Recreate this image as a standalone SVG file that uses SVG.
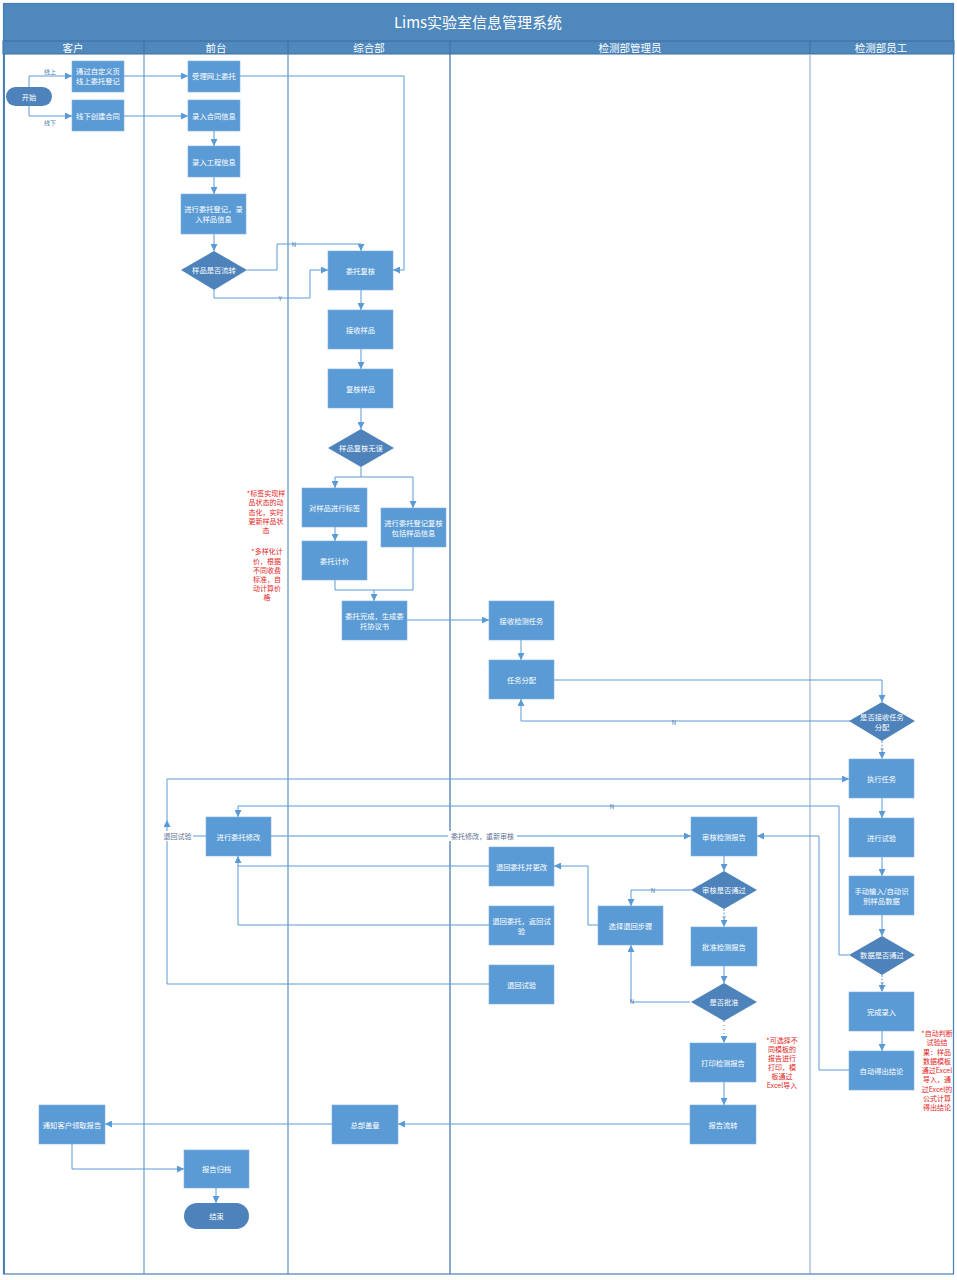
<svg xmlns="http://www.w3.org/2000/svg" width="957" height="1280" viewBox="0 0 957 1280">
<style>
.n{fill:#5b9bd5;stroke:#7fb0e0;stroke-width:0.6}
.d{fill:#4d82ba}
.t{font-family:"Noto Sans CJK SC","Liberation Sans",sans-serif;font-size:7.3px;fill:#fff;text-anchor:middle;dominant-baseline:central}
.c{fill:none;stroke:#5b9bd5;stroke-width:1}
.lb{font-family:"Noto Sans CJK SC","Liberation Sans",sans-serif;font-size:6px;fill:#4a78b0;text-anchor:middle;dominant-baseline:central}
.lbw{font-family:"Noto Sans CJK SC","Liberation Sans",sans-serif;font-size:7px;fill:#5d7393;text-anchor:middle;dominant-baseline:central}
.r{font-family:"Noto Sans CJK SC","Liberation Sans",sans-serif;font-size:7px;fill:#e31e24;text-anchor:middle;dominant-baseline:central}
.h{font-family:"Noto Sans CJK SC","Liberation Sans",sans-serif;font-size:10.5px;fill:#fff;text-anchor:middle;dominant-baseline:central}
</style>
<defs>
<marker id="a" viewBox="0 0 10 10" refX="10" refY="5" markerWidth="7" markerHeight="7" markerUnits="userSpaceOnUse" orient="auto"><path d="M0,0 L10,5 L0,10 z" fill="#5b9bd5"/></marker>
</defs>
<rect x="0" y="0" width="957" height="1280" fill="#fff"/>
<g id="frame">
<rect x="3" y="3" width="951" height="38" fill="#4f88bc"/>
<rect x="3" y="41" width="951" height="13" fill="#4f88bc" stroke="#3d6e9f" stroke-width="1"/>
<text x="478" y="21" class="h" style="font-size:15px">Lims实验室信息管理系统</text>
<text x="73" y="47.5" class="h">客户</text>
<text x="216" y="47.5" class="h">前台</text>
<text x="369" y="47.5" class="h">综合部</text>
<text x="630" y="47.5" class="h">检测部管理员</text>
<text x="881" y="47.5" class="h">检测部员工</text>
<g stroke="#3d6e9f" stroke-width="1">
<line x1="144" y1="41" x2="144" y2="54"/><line x1="288" y1="41" x2="288" y2="54"/><line x1="450" y1="41" x2="450" y2="54"/><line x1="810" y1="41" x2="810" y2="54"/>
</g>
<line x1="144" y1="54" x2="144" y2="1274" stroke="#6f9bcf" stroke-width="1.2"/>
<line x1="288" y1="54" x2="288" y2="1274" stroke="#5f8fc6" stroke-width="1.2"/>
<line x1="450" y1="54" x2="450" y2="1274" stroke="#3f70a8" stroke-width="1.2"/>
<line x1="810" y1="54" x2="810" y2="1274" stroke="#9fb6d6" stroke-width="1.2"/>
<rect x="3.5" y="3.5" width="950" height="1270.5" fill="none" stroke="#4a7fb5" stroke-width="1.2"/>
<line x1="4" y1="54" x2="4" y2="1274" stroke="#4a7fb5" stroke-width="2"/>
</g>
<g id="connectors">
<path class="c" d="M29,87 V76 H72" marker-end="url(#a)"/>
<path class="c" d="M29,105 V116 H72" marker-end="url(#a)"/>
<path class="c" d="M124,76 H188" marker-end="url(#a)"/>
<path class="c" d="M124,116 H188" marker-end="url(#a)"/>
<path class="c" d="M240,76 H404 V270 H393" marker-end="url(#a)"/>
<path class="c" d="M214,131 V146" marker-end="url(#a)"/>
<path class="c" d="M214,177 V194" marker-end="url(#a)"/>
<path class="c" d="M214,234 V251" marker-end="url(#a)"/>
<path class="c" d="M247,270 H277 V244 H361 V251" marker-end="url(#a)"/>
<path class="c" d="M214,290 V298 H310 V270 H328" marker-end="url(#a)"/>
<path class="c" d="M361,290 V310" marker-end="url(#a)"/>
<path class="c" d="M361,349 V369" marker-end="url(#a)"/>
<path class="c" d="M361,408 V429" marker-end="url(#a)"/>
<path class="c" d="M361,467 V477 H335 V488" marker-end="url(#a)"/>
<path class="c" d="M361,477 H413 V508" marker-end="url(#a)"/>
<path class="c" d="M335,527 V541" marker-end="url(#a)"/>
<path class="c" d="M335,580 V590 H374 V601" marker-end="url(#a)"/>
<path class="c" d="M413,547 V590 H374"/>
<path class="c" d="M407,620 H489" marker-end="url(#a)"/>
<path class="c" d="M521,640 V660" marker-end="url(#a)"/>
<path class="c" d="M554,680 H882 V702" marker-end="url(#a)"/>
<path class="c" d="M850,721 H521 V699" marker-end="url(#a)"/>
<path class="c" d="M882,741 V759" marker-end="url(#a)" stroke-dasharray="2,1.5"/>
<path class="c" d="M882,798 V818" marker-end="url(#a)"/>
<path class="c" d="M882,857 V876" marker-end="url(#a)"/>
<path class="c" d="M882,915 V936" marker-end="url(#a)"/>
<path class="c" d="M882,975 V992" marker-end="url(#a)" stroke-dasharray="2,1.5"/>
<path class="c" d="M882,1031 V1051" marker-end="url(#a)"/>
<path class="c" d="M849,955 H839 V806 H238 V817" marker-end="url(#a)"/>
<path class="c" d="M849,1070 H819 V836 H757" marker-end="url(#a)"/>
<path class="c" d="M271,836 H691" marker-end="url(#a)" style="stroke-width:1.6;stroke:#8ab4de"/>
<path class="c" d="M489,866 H238 V856" marker-end="url(#a)"/>
<path class="c" d="M489,925 H238 V866"/>
<path class="c" d="M489,984 H167 V820" marker-end="url(#a)"/>
<path class="c" d="M167,820 V779 H849" marker-end="url(#a)"/>
<path class="c" d="M193,836 H206"/>
<path class="c" d="M598,925 H588 V866 H554" marker-end="url(#a)"/>
<path class="c" d="M724,856 V871" marker-end="url(#a)"/>
<path class="c" d="M691,890 H631 V906" marker-end="url(#a)"/>
<path class="c" d="M724,909 V927" marker-end="url(#a)" stroke-dasharray="2,1.5"/>
<path class="c" d="M724,966 V983" marker-end="url(#a)"/>
<path class="c" d="M690,1002 H631 V945" marker-end="url(#a)"/>
<path class="c" d="M724,1021 V1043" marker-end="url(#a)" stroke-dasharray="1,3"/>
<path class="c" d="M724,1082 V1105" marker-end="url(#a)"/>
<path class="c" d="M690,1124 H398" marker-end="url(#a)"/>
<path class="c" d="M332,1124 H105" marker-end="url(#a)"/>
<path class="c" d="M72,1144 V1169 H184" marker-end="url(#a)"/>
<path class="c" d="M216,1188 V1203" marker-end="url(#a)"/>
<text x="50" y="71" class="lb">线上</text>
<text x="50" y="122" class="lb">线下</text>
<text x="294" y="244" class="lb">N</text>
<text x="280" y="298" class="lb">Y</text>
<text x="674" y="722" class="lb">N</text>
<text x="882" y="750" class="lb">Y</text>
<text x="882" y="984" class="lb">Y</text>
<text x="612" y="806" class="lb">N</text>
<text x="653" y="890" class="lb">N</text>
<text x="724" y="918" class="lb">Y</text>
<text x="632" y="1001" class="lb">N</text>
<rect x="162" y="831" width="31" height="10" fill="#fff"/>
<text x="177.5" y="836" class="lbw">退回试验</text>
<rect x="448" y="831" width="69" height="10" fill="#fff"/>
<text x="482.5" y="836" class="lbw">委托修改，重新审核</text>
</g>
<g id="start"><rect x="6" y="87" width="46" height="19" rx="9.5" class="d"/><text x="29" y="96.5" class="t">开始</text></g>
<g id="n_online"><rect x="72" y="61" width="52" height="31" class="n"/><text x="98" y="71" class="t">通过自定义页</text><text x="98" y="81" class="t">线上委托登记</text></g>
<g id="n_offline"><rect x="72" y="100" width="52" height="31" class="n"/><text x="98" y="116" class="t">线下创建合同</text></g>
<g id="n_accept"><rect x="188" y="61" width="52" height="31" class="n"/><text x="214" y="76" class="t">受理网上委托</text></g>
<g id="n_contract"><rect x="188" y="100" width="52" height="31" class="n"/><text x="214" y="116" class="t">录入合同信息</text></g>
<g id="n_project"><rect x="188" y="146" width="52" height="31" class="n"/><text x="214" y="161.5" class="t">录入工程信息</text></g>
<g id="n_register"><rect x="181" y="194" width="65" height="40" class="n"/><text x="213.5" y="209" class="t">进行委托登记，录</text><text x="213.5" y="219" class="t">入样品信息</text></g>
<g id="d_flow"><polygon points="214,251 247,270 214,290 181,270" class="d"/><text x="214" y="270" class="t">样品是否流转</text></g>
<g id="n_review"><rect x="328" y="251" width="65" height="39" class="n"/><text x="360.5" y="270.5" class="t">委托复核</text></g>
<g id="n_receive"><rect x="328" y="310" width="65" height="39" class="n"/><text x="360.5" y="329.5" class="t">接收样品</text></g>
<g id="n_recheck"><rect x="328" y="369" width="65" height="39" class="n"/><text x="360.5" y="388.5" class="t">复核样品</text></g>
<g id="d_ok"><polygon points="361,429 394,448 361,467 328,448" class="d"/><text x="361" y="448" class="t">样品复核无误</text></g>
<g id="n_label"><rect x="302" y="488" width="65" height="39" class="n"/><text x="334.5" y="507.5" class="t">对样品进行标签</text></g>
<g id="n_regcheck"><rect x="381" y="508" width="65" height="39" class="n"/><text x="413.5" y="522.5" class="t">进行委托登记复核</text><text x="413.5" y="532.5" class="t">包括样品信息</text></g>
<g id="n_price"><rect x="302" y="541" width="65" height="39" class="n"/><text x="334.5" y="560.5" class="t">委托计价</text></g>
<g id="n_done"><rect x="342" y="601" width="65" height="39" class="n"/><text x="374.5" y="615.5" class="t">委托完成，生成委</text><text x="374.5" y="625.5" class="t">托协议书</text></g>
<g id="n_task"><rect x="489" y="601" width="65" height="39" class="n"/><text x="521.5" y="620.5" class="t">接收检测任务</text></g>
<g id="n_assign"><rect x="489" y="660" width="65" height="39" class="n"/><text x="521.5" y="679.5" class="t">任务分配</text></g>
<g id="d_accept"><polygon points="882,702 915,721 882,741 849,721" class="d"/><text x="882" y="716.5" class="t">是否接收任务</text><text x="882" y="726.5" class="t">分配</text></g>
<g id="n_exec"><rect x="849" y="759" width="65" height="39" class="n"/><text x="881.5" y="778.5" class="t">执行任务</text></g>
<g id="n_test"><rect x="849" y="818" width="65" height="39" class="n"/><text x="881.5" y="837.5" class="t">进行试验</text></g>
<g id="n_input"><rect x="849" y="876" width="65" height="39" class="n"/><text x="881.5" y="890.5" class="t">手动输入/自动识</text><text x="881.5" y="900.5" class="t">别样品数据</text></g>
<g id="d_data"><polygon points="882,936 915,955 882,975 849,955" class="d"/><text x="882" y="955" class="t">数据是否通过</text></g>
<g id="n_finish"><rect x="849" y="992" width="65" height="39" class="n"/><text x="881.5" y="1011.5" class="t">完成录入</text></g>
<g id="n_auto"><rect x="849" y="1051" width="65" height="39" class="n"/><text x="881.5" y="1070.5" class="t">自动得出结论</text></g>
<g id="n_modify"><rect x="206" y="817" width="65" height="39" class="n"/><text x="238.5" y="836.5" class="t">进行委托修改</text></g>
<g id="n_audit"><rect x="691" y="817" width="66" height="39" class="n"/><text x="724" y="836.5" class="t">审核检测报告</text></g>
<g id="n_ret1"><rect x="489" y="847" width="65" height="39" class="n"/><text x="521.5" y="866.5" class="t">退回委托并更改</text></g>
<g id="n_ret2"><rect x="489" y="906" width="65" height="39" class="n"/><text x="521.5" y="920.5" class="t">退回委托，返回试</text><text x="521.5" y="930.5" class="t">验</text></g>
<g id="n_ret3"><rect x="489" y="965" width="65" height="39" class="n"/><text x="521.5" y="984.5" class="t">退回试验</text></g>
<g id="n_choose"><rect x="598" y="906" width="65" height="39" class="n"/><text x="630.5" y="925.5" class="t">选择退回步骤</text></g>
<g id="d_audit"><polygon points="724,871 757,890 724,909 691,890" class="d"/><text x="724" y="890" class="t">审核是否通过</text></g>
<g id="n_approve"><rect x="691" y="927" width="66" height="39" class="n"/><text x="724" y="946.5" class="t">批准检测报告</text></g>
<g id="d_approve"><polygon points="724,983 757,1002 724,1021 691,1002" class="d"/><text x="724" y="1002" class="t">是否批准</text></g>
<g id="n_print"><rect x="690" y="1043" width="66" height="39" class="n"/><text x="723" y="1062.5" class="t">打印检测报告</text></g>
<g id="n_flow"><rect x="690" y="1105" width="66" height="39" class="n"/><text x="723" y="1124.5" class="t">报告流转</text></g>
<g id="n_stamp"><rect x="332" y="1105" width="66" height="39" class="n"/><text x="365" y="1124.5" class="t">总部盖章</text></g>
<g id="n_notify"><rect x="39" y="1105" width="66" height="39" class="n"/><text x="72" y="1124.5" class="t">通知客户领取报告</text></g>
<g id="n_archive"><rect x="184" y="1150" width="65" height="38" class="n"/><text x="216.5" y="1169" class="t">报告归档</text></g>
<g id="end"><rect x="184" y="1203" width="65" height="26" rx="13" class="d"/><text x="216.5" y="1216" class="t">结束</text></g>
<g id="notes">
<text class="r"><tspan x="266" y="493">*标签实现样</tspan><tspan x="266" y="502">品状态的动</tspan><tspan x="266" y="512">态化，实时</tspan><tspan x="266" y="521">更新样品状</tspan><tspan x="266" y="530">态</tspan></text>
<text class="r"><tspan x="267" y="551">*多样化计</tspan><tspan x="267" y="561">价，根据</tspan><tspan x="267" y="570">不同收费</tspan><tspan x="267" y="579">标准，自</tspan><tspan x="267" y="588">动计算价</tspan><tspan x="267" y="597">格</tspan></text>
<text class="r"><tspan x="782" y="1040">*可选择不</tspan><tspan x="782" y="1049">同模板的</tspan><tspan x="782" y="1058">报告进行</tspan><tspan x="782" y="1067">打印，模</tspan><tspan x="782" y="1076">板通过</tspan><tspan x="782" y="1085">Excel导入</tspan></text>
<text class="r"><tspan x="937" y="1033">*自动判断</tspan><tspan x="937" y="1042">试验结</tspan><tspan x="937" y="1052">果：样品</tspan><tspan x="937" y="1061">数据模板</tspan><tspan x="937" y="1070">通过Excel</tspan><tspan x="937" y="1079">导入，通</tspan><tspan x="937" y="1089">过Excel的</tspan><tspan x="937" y="1098">公式计算</tspan><tspan x="937" y="1107">得出结论</tspan></text>
</g>
</svg>
